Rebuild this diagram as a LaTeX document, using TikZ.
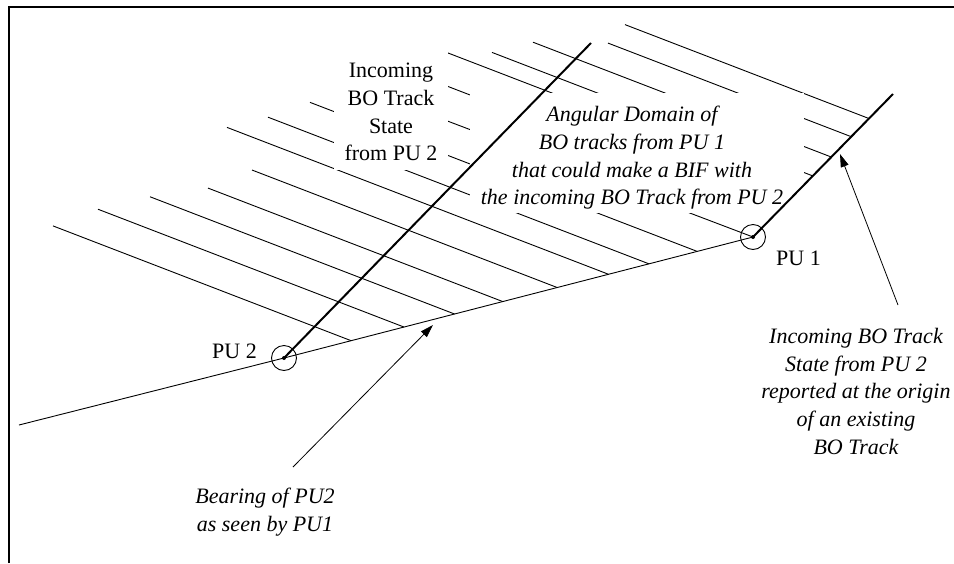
\documentclass[tikz,border=0pt]{standalone}
\usepackage{fontspec}
\setmainfont{Liberation Serif}
\usetikzlibrary{arrows.meta}
\begin{document}
\begin{tikzpicture}[x=1pt,y=-1pt,
  hatch/.style={line width=0.9pt},
  trackline/.style={line width=2pt},
  thinline/.style={line width=0.9pt},
  frameline/.style={line width=2pt},
  pointer/.style={line width=0.8pt,-{Triangle[length=13pt,width=8pt]}},
  ring/.style={circle,draw,line width=0.9pt,minimum size=25pt,inner sep=0pt},
  lbl/.style={font=\fontsize{22}{27.7}\selectfont, inner sep=0pt, align=center},
  ilbl/.style={font=\fontsize{22}{27.7}\selectfont\itshape, inner sep=0pt, align=center},
  mask/.style={fill=white}
]
\useasboundingbox (0,0) rectangle (954,563);
% frame
\draw[frameline] (9,563) -- (9,7) -- (954,7);
% key points
\coordinate (pu2) at (284,358);
\coordinate (pu1) at (753,237);
\coordinate (bearEnd) at (19,425);
\coordinate (t2) at (591,43);
\coordinate (t1) at (893,94);
% hatch lines ending on the bearing line
\foreach \xs/\cc in {53/205.5,98/171.5,150/139,208/108,252/73,227/40,268/14,310/-17}{
  \coordinate (hs) at (\xs,{0.385*\xs+\cc});
  \coordinate (hd) at ([shift={(100,38.5)}]hs);
  \draw[hatch] (hs) -- (intersection of hs--hd and pu2--pu1);
}
% hatch line ending at PU 1
\coordinate (h9) at (400,103);
\draw[hatch] (h9) -- (pu1);
% hatch lines ending on the PU 1 track
\foreach \xs/\cc in {420/-86,444/-119.5,492/-137,533/-163,608/-191,625/-216}{
  \coordinate (hs) at (\xs,{0.385*\xs+\cc});
  \coordinate (hd) at ([shift={(100,38.5)}]hs);
  \draw[hatch] (hs) -- (intersection of hs--hd and pu1--t1);
}
% white masks behind the texts
\fill[mask] (334,50) rectangle (448,170);
\fill[mask] (470,92.5) rectangle (804,213);
% bearing line and tracks
\draw[thinline] (bearEnd) -- (pu2) -- (pu1);
\draw[trackline] (pu2) -- (t2);
\draw[trackline] (pu1) -- (t1);
\node[ring] (c2) at (pu2) {};
\node[ring] (c1) at (pu1) {};
\fill (pu2) circle (2pt);
\fill (pu1) circle (2pt);
% texts
\node[lbl, anchor=north] (incoming) at (391,63) {Incoming\\BO Track\\State\\from PU 2};
\node[ilbl, anchor=north] (domain) at (632,106) {Angular Domain of\\BO tracks from PU 1\\that could make a BIF with\\the incoming BO Track from PU 2};
\node[lbl, anchor=base east] (pu2lbl) at (257,358) {PU 2};
\node[lbl, anchor=base west] (pu1lbl) at (776,265) {PU 1};
\node[ilbl, anchor=north] (state) at (856,328) {Incoming BO Track\\State from PU 2\\reported at the origin\\of an existing\\BO Track};
\node[ilbl, anchor=north] (bearing) at (265,488) {Bearing of PU2\\as seen by PU1};
% arrows
\coordinate (a1tail) at (293,467);
\coordinate (a1tip) at (433,325);
\coordinate (a2tail) at (898,305);
\coordinate (a2tip) at (840,154);
\draw[pointer] (a1tail) -- (a1tip);
\draw[pointer] (a2tail) -- (a2tip);
\end{tikzpicture}
\end{document}
